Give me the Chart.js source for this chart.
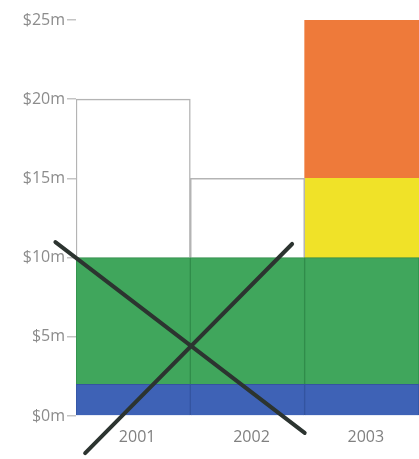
<!DOCTYPE html>
<html>
<head>
<meta charset="utf-8">
<script src="https://cdn.jsdelivr.net/npm/chart.js@4"></script>
<style>
  html, body { margin: 0; padding: 0; background: #fff; }
  #wrap { width: 419px; height: 459px; }
</style>
</head>
<body>
<div id="wrap"><canvas id="chart"></canvas></div>
<script>
const years = ['2001', '2002', '2003'];
const baseBlue = [2, 2, 2];
const coreGreen = [8, 8, 8];
const openWhite = [10, 5, null];
const extraYellow = [null, null, 5];
const extraOrange = [null, null, 10];
const yTicks = [0, 5, 10, 15, 20, 25];

// the two strokes of the big cross, in value space
const strokeA = [{ x: -0.68, y: 10.98 }, { x: 1.50, y: -1.07 }];
const strokeB = [{ x: -0.42, y: -2.34 }, { x: 1.39, y: 10.86 }];

const bar = (label, data, bg, border, width) => ({
  type: 'bar', label, data, backgroundColor: bg, borderColor: border,
  borderWidth: width, borderSkipped: 'start', order: 1, grouped: false,
  barPercentage: 1, categoryPercentage: 1, xAxisID: 'x', stack: 'money'
});
const stroke = (label, data, key) => ({
  type: 'line', label, data, xAxisID: 'xl', stack: key, order: 0,
  borderColor: '#2c3430', borderWidth: 4, borderCapStyle: 'round',
  pointRadius: 0, clip: false, fill: false
});

new Chart(document.getElementById('chart'), {
  type: 'bar',
  data: {
    labels: years,
    datasets: [
      bar('blue', baseBlue, 'rgb(62,98,182)', 'rgb(52,84,160)', 1),
      bar('green', coreGreen, 'rgb(64,166,92)', 'rgb(48,140,74)', 1),
      bar('white', openWhite, '#ffffff', '#b4b4b4', 1.5),
      bar('yellow', extraYellow, 'rgb(240,226,40)', 'rgb(240,226,40)', 0),
      bar('orange', extraOrange, 'rgb(238,122,58)', 'rgb(238,122,58)', 0),
      stroke('cross1', strokeA, 'c1'),
      stroke('cross2', strokeB, 'c2')
    ]
  },
  options: {
    responsive: true,
    maintainAspectRatio: false,
    animation: false,
    layout: { padding: { top: 20, right: 0, left: 0, bottom: 0 } },
    plugins: { legend: { display: false }, tooltip: { enabled: false } },
    scales: {
      x: {
        stacked: true,
        grid: { display: false },
        border: { display: false },
        ticks: { color: '#808080', font: { family: 'Open Sans', size: 16 }, padding: 4, labelOffset: 4 },
        afterFit: s => { s.height = 43; }
      },
      xl: {
        type: 'linear', display: false, offset: false, min: -0.5, max: 2.5
      },
      y: {
        stacked: true,
        min: 0, max: 25,
        afterBuildTicks: s => { s.ticks = yTicks.map(v => ({ value: v })); },
        grid: { drawOnChartArea: false, drawTicks: true, tickLength: 9, color: '#c4c4c4', lineWidth: 1.5 },
        border: { display: false },
        ticks: {
          color: '#8c8c8c', font: { family: 'Open Sans', size: 16 }, padding: 2,
          callback: v => '$' + v + 'm'
        },
        afterFit: s => { s.width = 76; }
      }
    }
  }
});
</script>
</body>
</html>
